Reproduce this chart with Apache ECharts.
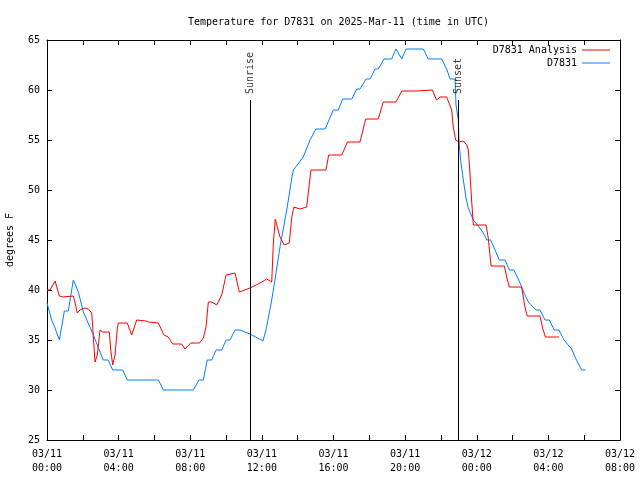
<!DOCTYPE html>
<html><head><meta charset="utf-8">
<script src="https://cdn.jsdelivr.net/npm/echarts@6/dist/echarts.min.js"></script>
<style>html,body{margin:0;padding:0;background:#fff}#c{width:640px;height:480px}</style>
</head><body><div id="c"></div>
<script>
// hours since 2025-03-11 00:00 UTC
const analysisHours = [0,0.17,0.45,0.69,0.88,1.47,1.56,1.69,1.84,2.12,2.31,2.50,2.59,2.68,2.81,2.96,3.11,3.48,3.56,3.67,3.80,3.93,3.98,4.48,4.73,5.01,5.53,5.66,6.22,6.53,6.77,7.02,7.52,7.71,8.03,8.51,8.73,8.88,9.01,9.20,9.48,9.76,10.00,10.50,10.74,11.34,11.90,12.27,12.55,12.64,12.75,12.86,13.01,13.25,13.53,13.67,13.79,14.13,14.50,14.59,14.74,15.58,15.73,16.46,16.78,17.48,17.80,18.50,18.78,19.49,19.81,20.65,20.74,21.52,21.76,21.95,22.32,22.60,22.69,22.82,23.03,23.25,23.44,23.53,23.62,23.72,23.81,24.52,24.64,24.80,25.54,25.67,25.82,26.51,26.69,26.82,27.53,27.68,27.83,28.59];
const analysisTemps = [40.0,40.0,40.9,39.4,39.3,39.4,38.8,37.7,38.0,38.2,38.1,37.7,35.3,32.8,33.5,36.0,35.8,35.8,34.0,32.5,33.5,36.2,36.7,36.7,35.5,37.0,36.9,36.8,36.7,35.5,35.3,34.6,34.6,34.1,34.7,34.7,35.2,36.3,38.8,38.8,38.5,39.5,41.5,41.7,39.8,40.2,40.7,41.1,40.8,44.7,47.1,46.3,45.3,44.5,44.7,47.3,48.3,48.1,48.3,49.7,52.0,52.0,53.5,53.5,54.8,54.8,57.1,57.1,58.8,58.8,59.9,59.9,60.0,60.0,59.0,59.3,59.3,58.0,56.3,55.0,54.8,54.9,54.5,54.0,51.7,48.8,46.5,46.5,45.2,42.4,42.4,41.3,40.3,40.3,38.3,37.4,37.4,36.2,35.3,35.3];
const obsHours = [0,0.26,0.45,0.69,0.97,1.19,1.47,1.75,2.03,2.59,3.14,3.42,3.67,4.23,4.48,6.22,6.50,8.17,8.49,8.73,8.95,9.20,9.44,9.76,10.00,10.22,10.50,10.78,11.34,11.86,12.06,12.23,12.55,12.73,13.01,13.39,13.67,13.76,14.31,14.69,15.02,15.53,15.80,15.99,16.27,16.51,17.02,17.30,17.48,17.82,18.04,18.32,18.50,18.82,19.25,19.49,19.81,20.05,21.02,21.29,22.04,22.32,22.51,22.79,22.84,22.97,23.01,23.10,23.25,23.40,23.53,23.81,24.09,24.33,24.56,24.78,25.02,25.26,25.58,25.82,26.08,26.42,26.64,26.88,27.31,27.53,27.81,28.05,28.33,28.59,28.87,29.30,29.54,29.86,30.08];
const obsTemps = [38.7,37.0,36.2,35.0,37.9,37.9,41.0,39.8,37.8,35.5,33.0,33.0,32.0,32.0,31.0,31.0,30.0,30.0,31.0,31.0,33.0,33.0,34.0,34.0,35.0,35.0,36.0,36.0,35.6,35.1,34.9,36.0,39.0,41.0,44.3,48.0,51.2,52.0,53.3,55.0,56.1,56.1,57.2,58.0,58.0,59.1,59.1,60.1,60.1,61.1,61.1,62.1,62.1,63.1,63.1,64.1,63.1,64.1,64.1,63.1,63.1,62.1,61.1,61.1,58.5,57.0,54.8,53.0,51.0,49.2,48.2,47.0,46.4,45.8,45.0,45.0,44.0,43.0,43.0,42.0,42.0,40.7,39.7,38.8,38.0,38.0,37.0,37.0,36.0,36.0,35.0,34.1,33.1,32.0,32.0];
const sunEvents = ['Sunrise','Sunset'];
const sunHours = [11.34, 22.98];
const sunLineTop = 59;
const dayLabels = ['03/11','03/12'];
const yTicks = [25,30,35,40,45,50,55,60,65];

const mono = 'DejaVu Sans Mono';
const zip = (a,b) => a.map((v,i)=>[v,b[i]]);
function xLabel(v){
  if (Math.round(v) % 4 !== 0) return '';
  const d = Math.floor(v/24), h = v - d*24;
  return dayLabels[d] + '\n' + String(h).padStart(2,'0') + ':00';
}
const axisCommon = {
  axisLine:{show:true,onZero:false,lineStyle:{color:'#000',width:1}},
  axisTick:{show:true,inside:true,length:5,lineStyle:{color:'#000'}},
  splitLine:{show:false}
};
const chart = echarts.init(document.getElementById('c'), null, {renderer:'canvas'});
chart.setOption({
  animation:false,
  backgroundColor:'#fff',
  title:{text:'Temperature for D7831 on 2025-Mar-11 (time in UTC)',left:183,top:12,
    textStyle:{fontFamily:mono,fontSize:10,fontWeight:'normal',color:'#000'}},
  legend:[
    {data:['D7831 Analysis'],right:30,top:45,padding:0,align:'right',orient:'vertical',icon:'rect',itemWidth:28,itemHeight:1,itemGap:0,
      textStyle:{fontFamily:mono,fontSize:10,color:'#000'}},
    {data:['D7831'],right:30,top:58,padding:0,align:'right',orient:'vertical',icon:'rect',itemWidth:28,itemHeight:1,itemGap:0,
      textStyle:{fontFamily:mono,fontSize:10,color:'#000'}}
  ],
  grid:{left:47,right:20,top:40,bottom:40,containLabel:false,outerBoundsMode:'none'},
  xAxis:[
    Object.assign({type:'value',min:0,max:32,interval:2,position:'bottom',
      axisLabel:{formatter:xLabel,fontFamily:mono,fontSize:10,color:'#000',margin:7,lineHeight:14,showMinLabel:true,showMaxLabel:true}},axisCommon),
    Object.assign({type:'value',min:0,max:32,interval:2,position:'top',axisLabel:{show:false}},axisCommon)
  ],
  yAxis:[
    Object.assign({type:'value',min:yTicks[0],max:yTicks[yTicks.length-1],interval:5,position:'left',
      name:'degrees F',nameLocation:'middle',nameGap:32,nameRotate:90,
      nameTextStyle:{fontFamily:mono,fontSize:10,color:'#000'},
      axisLabel:{fontFamily:mono,fontSize:10,color:'#000',margin:7}},axisCommon),
    Object.assign({type:'value',min:yTicks[0],max:yTicks[yTicks.length-1],interval:5,position:'right',axisLabel:{show:false}},axisCommon)
  ],
  series:[
    {name:'D7831 Analysis',type:'line',data:zip(analysisHours,analysisTemps),showSymbol:false,symbol:'none',
      lineStyle:{color:'#ff0000',width:1},itemStyle:{color:'#ff0000'},z:3},
    {name:'D7831',type:'line',data:zip(obsHours,obsTemps),showSymbol:false,symbol:'none',
      lineStyle:{color:'#0080ff',width:1},itemStyle:{color:'#0080ff'},z:2},
    {name:'sun',type:'scatter',symbolSize:0,data:zip(sunHours,sunHours.map(()=>sunLineTop)),
      label:{show:true,formatter:p=>sunEvents[p.dataIndex],position:'top',distance:6,rotate:90,align:'left',verticalAlign:'middle',
        fontFamily:mono,fontSize:10,color:'#000'},
      markLine:{silent:true,symbol:'none',label:{show:false},lineStyle:{color:'#000',width:1,type:'solid'},
        data:sunHours.map(h=>[{coord:[h,sunLineTop]},{coord:[h,yTicks[0]]}])},z:4}
  ]
});
</script></body></html>
